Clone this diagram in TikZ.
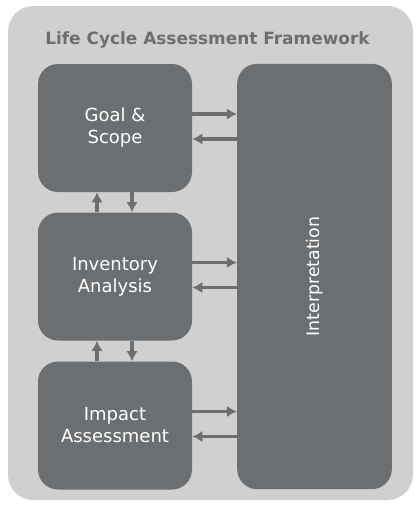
\documentclass[tikz,border=0pt]{standalone}
\usepackage{fontspec}
\setmainfont{DejaVu Sans}
\usepackage{xcolor}
\usetikzlibrary{positioning,calc,arrows.meta}

\definecolor{stagegray}{HTML}{6C6F72}
\definecolor{framegray}{HTML}{D0D0D0}

\tikzset{
	stage/.style={fill=stagegray,rounded corners=15pt,text=white,align=center,
		minimum width=115.5pt,minimum height=96pt,inner sep=0pt,
		font=\fontsize{13.5}{16.5}\selectfont},
	flow/.style={-{Latex[length=7.5pt,width=8.5pt]},draw=stagegray,line width=2.3pt}
}

\begin{document}
\begin{tikzpicture}[x=0.75pt,y=-0.75pt]
		\useasboundingbox (0,0) rectangle (417,508);
		\fill[framegray,rounded corners=19pt] (8,6) rectangle (413,500);
		\node[anchor=west,inner sep=0pt,text=stagegray,font=\fontsize{12.7}{14}\selectfont\bfseries] (title) at (45,40) {Life Cycle Assessment Framework};
		% the three stages on the left
		\node[stage] (goal) at (115,128) {Goal \&\\Scope};
		\node[stage] (inv) at (115,276.5) {Inventory\\Analysis};
		\node[stage] (impact) at (115,425.5) {Impact\\Assessment};
		% tall box on the right
		\node[stage,minimum width=116pt,minimum height=319pt,label={[rotate=90,text=white,font=\fontsize{13}{16}\selectfont]center:Interpretation}] (interp) at (314.5,276.5) {};
		% to and from the interpretation
		\foreach \s in {goal,inv,impact}{
			\draw[flow] ([yshift=10.5pt]\s.east) -- ([yshift=10.5pt]\s.east -| interp.west);
			\draw[flow] ([yshift=-8.25pt]\s.east -| interp.west) -- ([yshift=-8.25pt]\s.east);
		}
		% between the stages
		\draw[flow] ([xshift=-13.5pt]inv.north) -- ([xshift=-13.5pt]goal.south);
		\draw[flow] ([xshift=12.75pt]goal.south) -- ([xshift=12.75pt]inv.north);
		\draw[flow] ([xshift=-13.5pt]impact.north) -- ([xshift=-13.5pt]inv.south);
		\draw[flow] ([xshift=12.75pt]inv.south) -- ([xshift=12.75pt]impact.north);
	\end{tikzpicture}
\end{document}
